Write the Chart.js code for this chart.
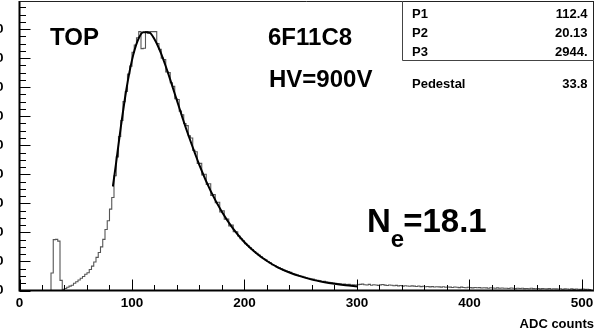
<!DOCTYPE html>
<html><head><meta charset="utf-8">
<script src="https://cdn.jsdelivr.net/npm/chart.js@4.4.0/dist/chart.umd.min.js"></script>
<style>html,body{margin:0;padding:0;background:#fff;}canvas{display:block;}</style>
</head><body>
<canvas id="c" width="595" height="335"></canvas>
<script>
// ---- data ----
const binWidth = 2; // ADC counts per histogram bin, first bin starts at 0
const histCounts = [
  0,0,0,0,0,0,0,0,0,0,0,0,0,0,
  120,350,352,340,70,8,
  14,22,30,36,50,60,72,84,96,112,122,145,168,196,228,262,300,352,420,480,560,640,
  790,920,1060,1170,1300,1370,1490,1545,1640,1690,1740,1782,1665,1668,1782,1770,1782,1782,1782,1700,
  1660,1600,1590,1505,1500,1430,1405,1320,
  1315,1235,1210,1150,1135,1065,1050,965,955,875,875,795,800,730,735,655,660,605,608,540,
  548,490,492,445,450,405,404,375,356,342,322,310,296,282,268,256,244,232,220,212,
  200,190,178,172,162,156,150,140,134,130,126,117,112,106,102,97,92,88,84,80,
  78,72,70,68,62,64,58,56,54,52,50,48,46,42,44,40,42,38,40,38,40,
  42,44,40,38,42,36,40,38,35,39,41,37,34,38,36,33,35,32,34,30,33,31,29,32,
  30,28,31,27,29,26,28,25,27,24,26,25,23,26,22,24,23,21,24,22,
  20,23,21,19,22,20,18,21,19,20,17,19,18,16,19,17,15,18,16,17,
  15,16,14,17,15,13,16,14,15,13,14,12,15,13,12,14,11,13,12,11,
  13,10,12,11,10,12,9,11,10,9,11,8,10,9,8,10,8,9,7,8
];
const fitX = [83,86,90,95,100,105,110,115,120,125,130,135,140,145,150,160,170,180,190,200,210,220,230,240,250,260,270,280,290,300];
const fitY = [716,886,1121,1384,1586,1718,1778,1778,1730,1648,1544,1427,1307,1186,1072,862,684,540,424,332,260,203,158,124,97,75,59,46,36,28];
const xTicks = [0,100,200,300,400,500];
const yTicks = [0,200,400,600,800,1000,1200,1400,1600,1800];
const xMinorStep = 20;
const yMinorStep = 50;
const statNames = ['P1','P2','P3'];
const statValues = ['112.4','20.13','2944.'];
const pedestalName = 'Pedestal';
const pedestalValue = '33.8';
const textTop = 'TOP';
const textTube = '6F11C8';
const textHV = 'HV=900V';
const neValue = '18.1';
const xTitle = 'ADC counts';

const FONT = '"Liberation Sans", Arial, Helvetica, sans-serif';
Chart.defaults.font.family = FONT;
Chart.defaults.color = '#000';

const histPoints = histCounts.map((c, i) => ({x: i * binWidth, y: c}));
const fitPoints = fitX.map((x, i) => ({x: x, y: fitY[i]}));

const framePlugin = {
  id: 'frame',
  afterDatasetsDraw(chart) {
    const {ctx, chartArea: a, scales: {x, y}} = chart;
    ctx.save();
    ctx.strokeStyle = '#000';
    ctx.lineWidth = 1;
    ctx.beginPath();
    for (let v = 0; v <= x.max; v += xMinorStep) {
      const px = Math.round(x.getPixelForValue(v)) + 0.5;
      const len = (v % 100 === 0) ? 11 : 5.5;
      ctx.moveTo(px, a.bottom); ctx.lineTo(px, a.bottom - len);
    }
    for (let v = 0; v <= y.max; v += yMinorStep) {
      const py = Math.round(y.getPixelForValue(v)) + 0.5;
      const len = (v % 200 === 0) ? 11 : 6.5;
      ctx.moveTo(a.left, py); ctx.lineTo(a.left + len, py);
    }
    ctx.stroke();
    ctx.lineWidth = 2;
    ctx.beginPath();
    ctx.moveTo(a.left, a.top); ctx.lineTo(a.left, a.bottom); ctx.lineTo(a.right, a.bottom);
    ctx.stroke();
    ctx.lineWidth = 1;
    ctx.strokeStyle = '#222';
    ctx.beginPath();
    ctx.moveTo(a.left, a.top + 0.5); ctx.lineTo(a.right, a.top + 0.5);
    ctx.moveTo(a.right - 0.5, a.top); ctx.lineTo(a.right - 0.5, a.bottom);
    ctx.stroke();
    ctx.strokeStyle = '#444';
    ctx.beginPath();
    ctx.moveTo(402.5, a.top); ctx.lineTo(402.5, 60.5); ctx.lineTo(a.right, 60.5);
    ctx.stroke();
    ctx.fillStyle = '#000';
    ctx.font = 'bold 13px ' + FONT;
    ctx.textBaseline = 'alphabetic';
    const rows = [18, 37, 55.5];
    statNames.forEach((n, i) => {
      ctx.textAlign = 'left'; ctx.fillText(n, 412, rows[i]);
      ctx.textAlign = 'right'; ctx.fillText(statValues[i], 587.5, rows[i]);
    });
    ctx.textAlign = 'left'; ctx.fillText(pedestalName, 412, 87.5);
    ctx.textAlign = 'right'; ctx.fillText(pedestalValue, 587.5, 87.5);
    ctx.textAlign = 'left';
    ctx.font = 'bold 24px ' + FONT;
    ctx.fillText(textTop, 50, 45);
    ctx.fillText(textTube, 268, 45);
    ctx.fillText(textHV, 269, 87);
    ctx.font = 'bold 33px ' + FONT;
    ctx.fillText('N', 367, 232);
    const nw = ctx.measureText('N').width;
    ctx.font = 'bold 24px ' + FONT;
    ctx.fillText('e', 367 + nw, 247);
    const ew = ctx.measureText('e').width;
    ctx.font = 'bold 33px ' + FONT;
    ctx.fillText('=' + neValue, 367 + nw + ew - 1, 232);
    ctx.restore();
  }
};

function noPad(s) { s.paddingTop = 0; s.paddingBottom = 0; s.paddingLeft = 0; s.paddingRight = 0; }

new Chart(document.getElementById('c'), {
  type: 'line',
  data: {
    datasets: [
      {
        label: 'fit', data: fitPoints, borderColor: '#000', borderWidth: 2,
        pointRadius: 0, cubicInterpolationMode: 'monotone', fill: false, order: 0
      },
      {
        label: 'histogram', data: histPoints, borderColor: '#555', borderWidth: 1.1,
        pointRadius: 0, stepped: true, fill: false, order: 1
      }
    ]
  },
  options: {
    responsive: false,
    animation: false,
    events: [],
    layout: {padding: {top: 1, right: 1, bottom: 0, left: 0}},
    plugins: {legend: {display: false}, tooltip: {enabled: false}},
    scales: {
      x: {
        type: 'linear', min: 0, max: 510.7,
        grid: {display: false, drawTicks: false},
        border: {display: false},
        afterBuildTicks: s => { s.ticks = xTicks.map(v => ({value: v})); },
        afterFit: s => { s.height = 44.5; noPad(s); },
        ticks: {font: {size: 13.5, weight: 'bold'}, padding: 5, maxRotation: 0, includeBounds: false},
        title: {display: true, text: xTitle, align: 'end', font: {size: 13, weight: 'bold'}, padding: {top: 0, bottom: 3}}
      },
      y: {
        type: 'linear', min: 0, max: 1993,
        grid: {display: false, drawTicks: false},
        border: {display: false},
        afterBuildTicks: s => { s.ticks = yTicks.map(v => ({value: v})); },
        afterFit: s => { s.width = 19.5; noPad(s); },
        ticks: {font: {size: 13.5, weight: 'bold'}, padding: 16, includeBounds: false}
      }
    }
  },
  plugins: [framePlugin]
});
</script>
</body></html>
